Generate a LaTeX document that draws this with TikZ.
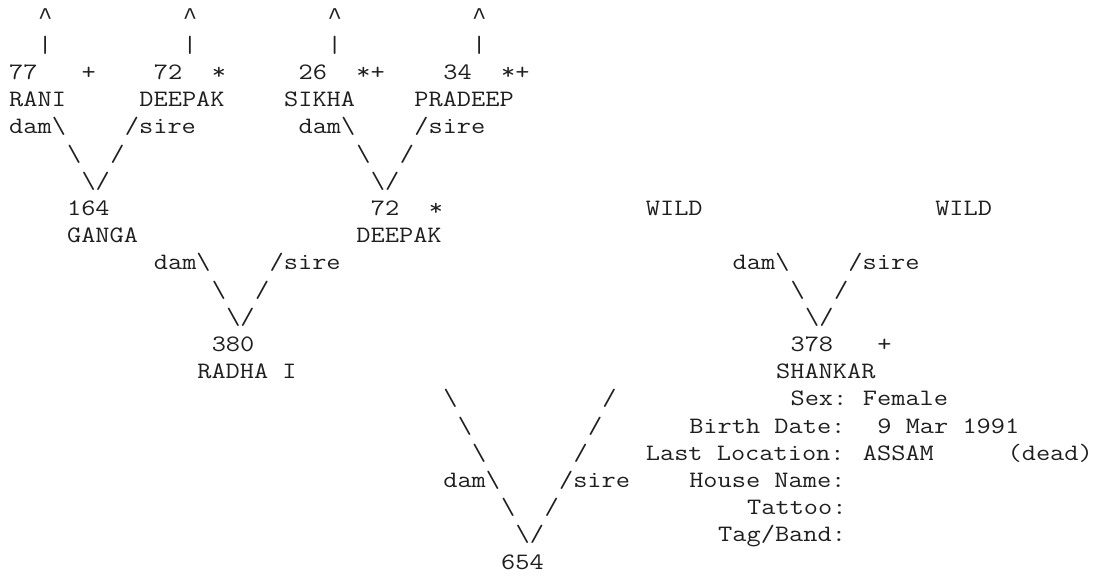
\documentclass[tikz,border=0pt]{standalone}
\usepackage{fontspec}
\setmonofont[FakeStretch=1.173]{Latin Modern Mono}
\newfontfamily\caretfont{Liberation Mono}
\usetikzlibrary{positioning}
\tikzset{
    ped text/.style={
        font=\ttfamily\fontsize{23.5}{27}\selectfont,
        text=black!88,
        inner sep=0pt,
        anchor=base west
    },
    ped data/.style={ped text},
    ped link/.style={ped text},
    ped caret/.style={ped text, font=\caretfont\fontsize{24}{27}\selectfont},
    ped flag/.style={ped text},
    ped info/.style={ped text}
}
\begin{document}
\begin{tikzpicture}[x=14.47pt, y=-27.2pt]
\path[use as bounding box, fill=white] (-0.622,0.081) rectangle (75.19,21.625);

% Generation 3: arrows to earlier ancestors
\foreach \c/\n in {2/1,12/2,22/3,32/4} {
    \node[ped caret] (up\n) at (\c,1) {\textasciicircum};
    \node[ped link] (bar\n) at (\c,2) {\textbar};
}
\node[ped data] (i77) at (0,3) {77};
\node[ped flag] (f77) at (5,3) {+};
\node[ped data] (i72a) at (10,3) {72};
\node[ped flag] (f72a) at (14,3) {*};
\node[ped data] (i26) at (20,3) {26};
\node[ped flag] (f26) at (24,3) {*+};
\node[ped data] (i34) at (30,3) {34};
\node[ped flag] (f34) at (34,3) {*+};
\node[ped data] (rani) at (0,4) {RANI};
\node[ped data] (deepaka) at (9,4) {DEEPAK};
\node[ped data] (sikha) at (19,4) {SIKHA};
\node[ped data] (pradeep) at (28,4) {PRADEEP};
\node[ped link] (dam1) at (0,5) {dam\textbackslash};
\node[ped link] (sire1) at (8,5) {/sire};
\node[ped link] (dam2) at (20,5) {dam\textbackslash};
\node[ped link] (sire2) at (28,5) {/sire};
\node[ped link] (dl1) at (4,6) {\textbackslash};
\node[ped link] (sl1) at (7,6) {/};
\node[ped link] (dl2) at (24,6) {\textbackslash};
\node[ped link] (sl2) at (27,6) {/};
\node[ped link] (v1) at (5,7) {\textbackslash/};
\node[ped link] (v2) at (25,7) {\textbackslash/};

% Generation 2: grandparents
\node[ped data] (i164) at (4,8) {164};
\node[ped data] (i72b) at (25,8) {72};
\node[ped flag] (f72b) at (29,8) {*};
\node[ped data] (wild1) at (44,8) {WILD};
\node[ped data] (wild2) at (64,8) {WILD};
\node[ped data] (ganga) at (4,9) {GANGA};
\node[ped data] (deepakb) at (24,9) {DEEPAK};
\node[ped link] (dam3) at (10,10) {dam\textbackslash};
\node[ped link] (sire3) at (18,10) {/sire};
\node[ped link] (dam4) at (50,10) {dam\textbackslash};
\node[ped link] (sire4) at (58,10) {/sire};
\node[ped link] (dl3) at (14,11) {\textbackslash};
\node[ped link] (sl3) at (17,11) {/};
\node[ped link] (dl4) at (54,11) {\textbackslash};
\node[ped link] (sl4) at (57,11) {/};
\node[ped link] (v3) at (15,12) {\textbackslash/};
\node[ped link] (v4) at (55,12) {\textbackslash/};

% Generation 1: parents
\node[ped data] (i380) at (14,13) {380};
\node[ped data] (i378) at (54,13) {378};
\node[ped flag] (f378) at (60,13) {+};
\node[ped data] (radha) at (13,14) {RADHA I};
\node[ped data] (shankar) at (53,14) {SHANKAR};
\node[ped link] (dl5a) at (30,15) {\textbackslash};
\node[ped link] (sl5a) at (41,15) {/};
\node[ped link] (dl5b) at (31,16) {\textbackslash};
\node[ped link] (sl5b) at (40,16) {/};
\node[ped link] (dl5c) at (32,17) {\textbackslash};
\node[ped link] (sl5c) at (39,17) {/};
\node[ped link] (dam5) at (30,18) {dam\textbackslash};
\node[ped link] (sire5) at (38,18) {/sire};
\node[ped link] (dl5d) at (34,19) {\textbackslash};
\node[ped link] (sl5d) at (37,19) {/};
\node[ped link] (v5) at (35,20) {\textbackslash/};

% Subject and its record
\node[ped data] (i654) at (34,21) {654};
\node[ped info] (sex) at (54,15) {Sex:};
\node[ped info] (sexv) at (59,15) {Female};
\node[ped info] (birth) at (47,16) {Birth Date:};
\node[ped info] (birthv) at (60,16) {9 Mar 1991};
\node[ped info] (loc) at (44,17) {Last Location:};
\node[ped info] (locv) at (59,17) {ASSAM};
\node[ped info] (dead) at (69,17) {(dead)};
\node[ped info] (house) at (47,18) {House Name:};
\node[ped info] (tattoo) at (51,19) {Tattoo:};
\node[ped info] (tag) at (49,20) {Tag/Band:};
\end{tikzpicture}
\end{document}
